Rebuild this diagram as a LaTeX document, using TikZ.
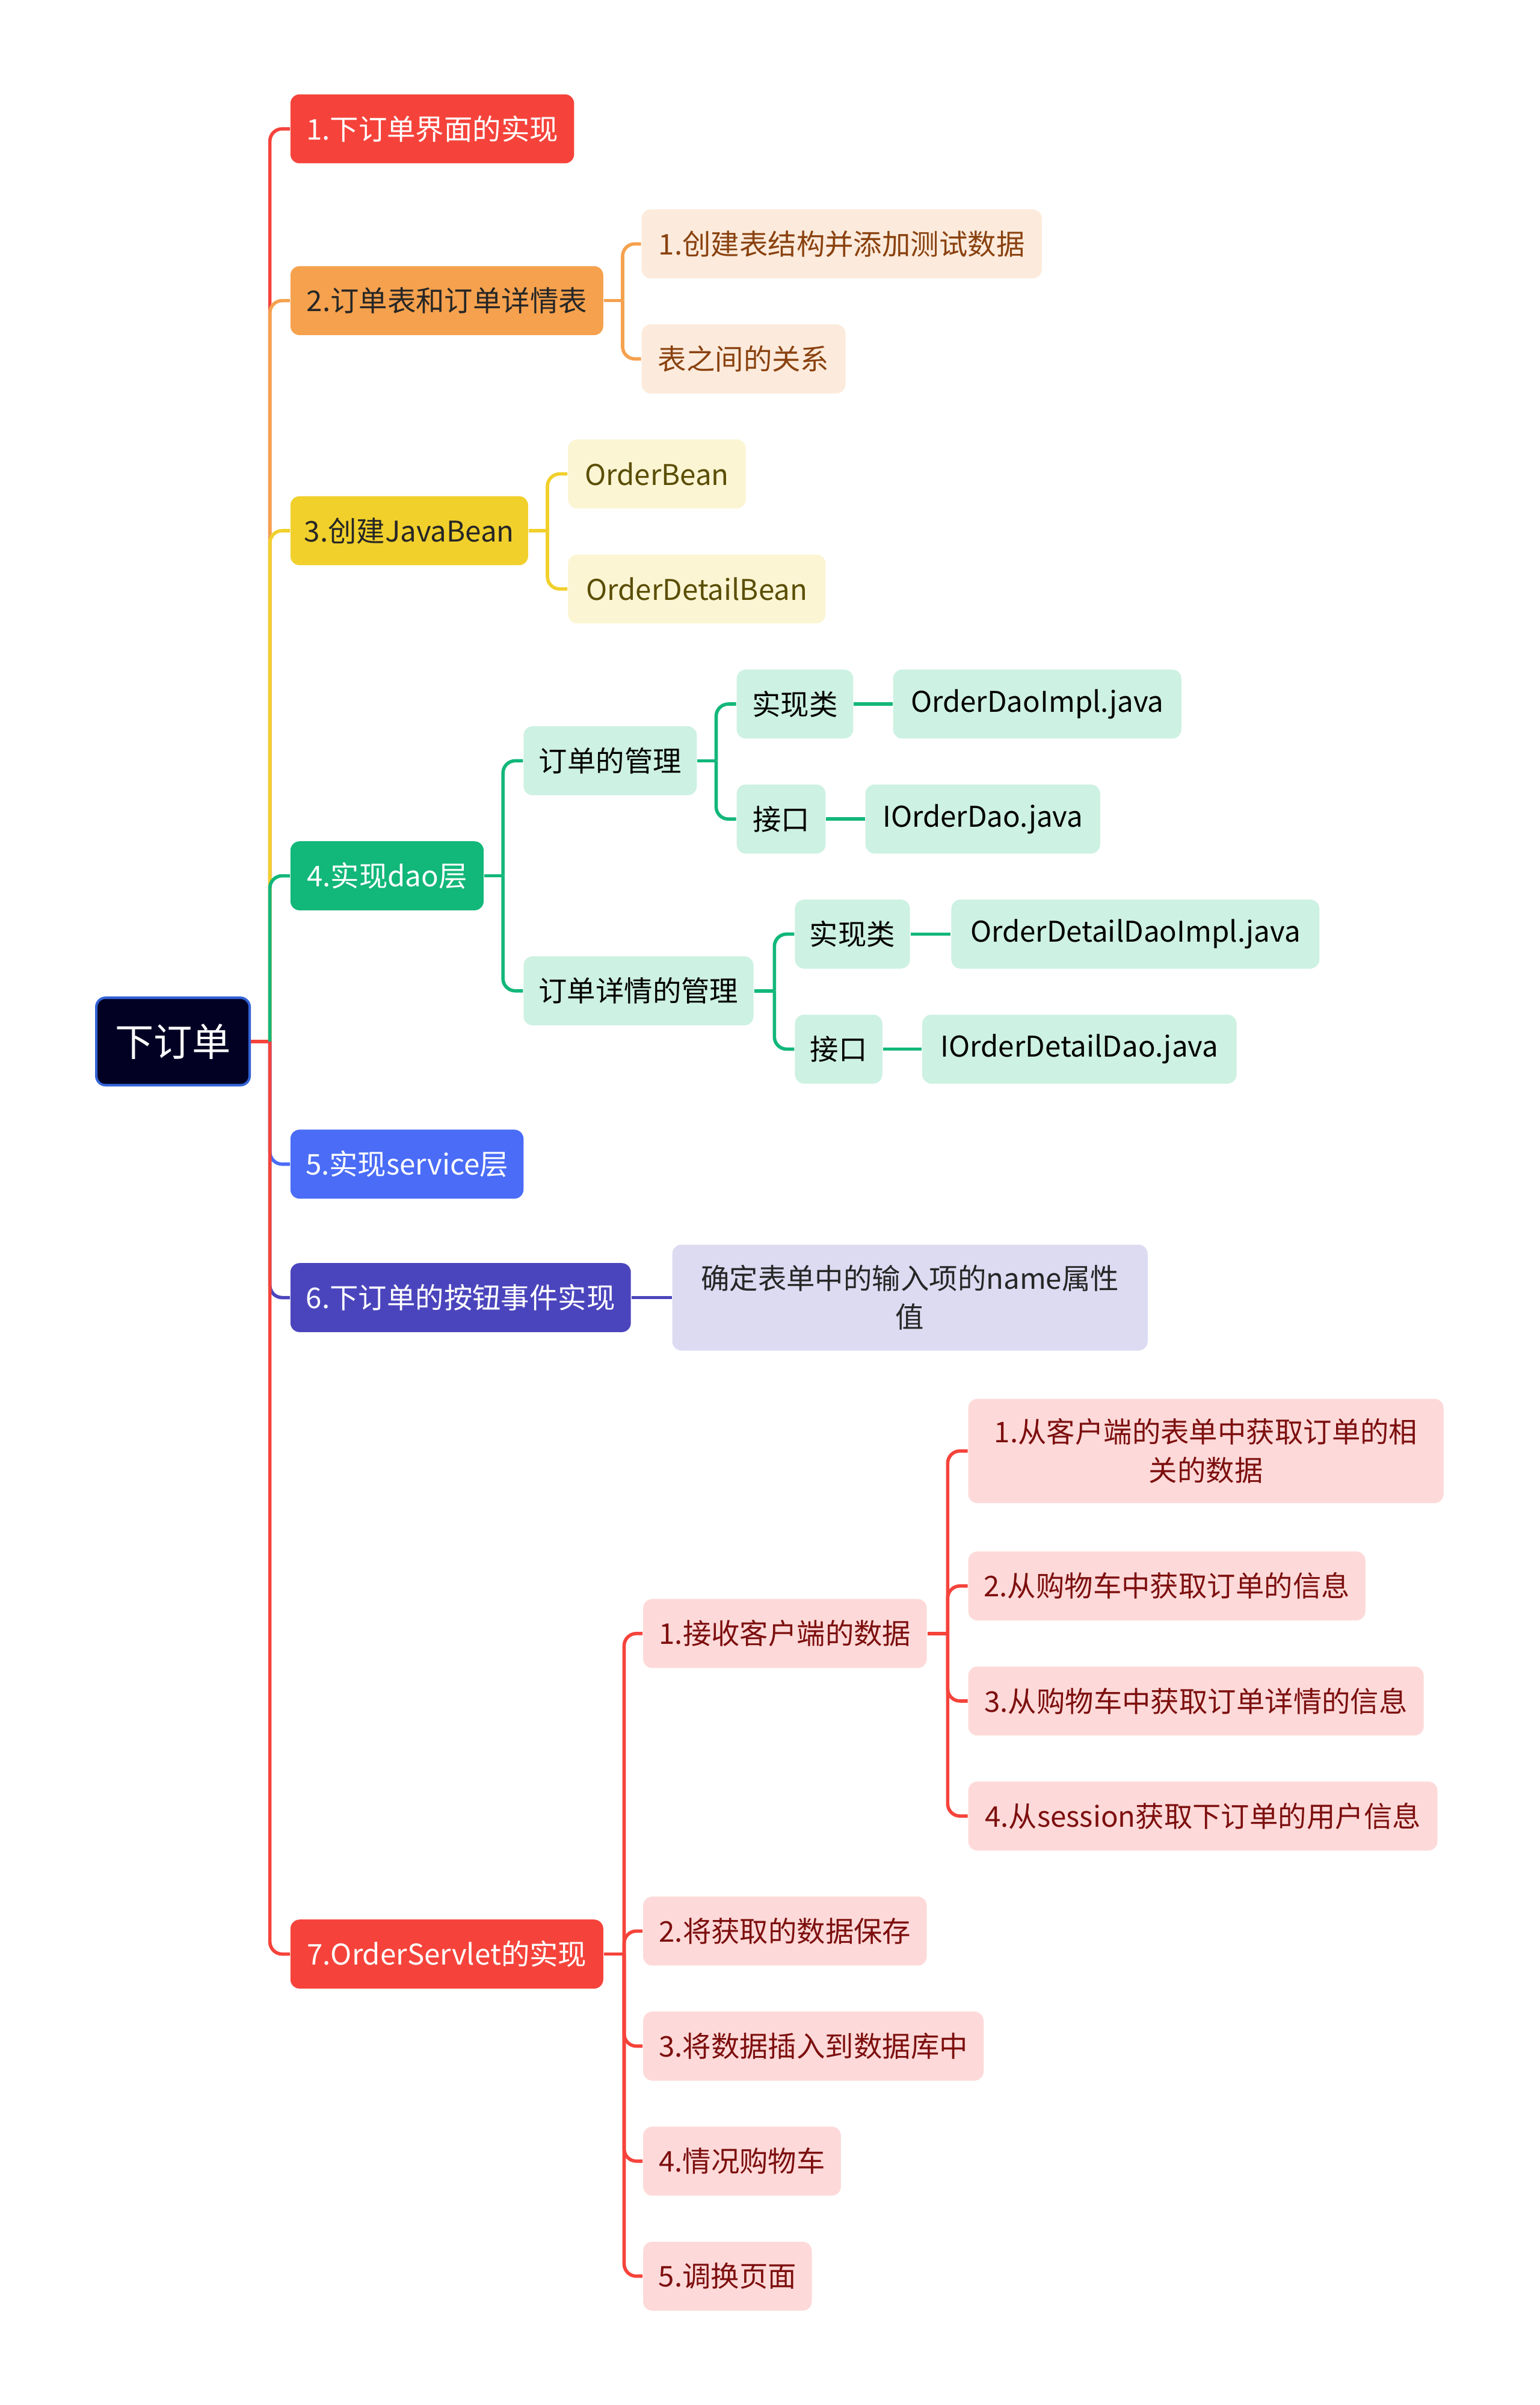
\documentclass[tikz,border=0pt]{standalone}
\usepackage{fontspec}
\setmainfont{Noto Sans CJK SC}
\usetikzlibrary{backgrounds}
\definecolor{cRed}{HTML}{F5433B}
\definecolor{cOrange}{HTML}{F5A14E}
\definecolor{cYellow}{HTML}{F1D02C}
\definecolor{cGreen}{HTML}{12B77A}
\definecolor{cBlue}{HTML}{4A6CF6}
\definecolor{cIndigo}{HTML}{4B45BD}
\definecolor{cRoot}{HTML}{020124}
\definecolor{cRootB}{HTML}{3363D6}
\definecolor{lOrange}{HTML}{FCEBDC}
\definecolor{lYellow}{HTML}{FCF5D4}
\definecolor{lGreen}{HTML}{CDF1E2}
\definecolor{lIndigo}{HTML}{DCDBF2}
\definecolor{lRed}{HTML}{FDDAD9}
\definecolor{tOrange}{HTML}{8A4210}
\definecolor{tYellow}{HTML}{5A4E05}
\definecolor{tRed}{HTML}{7D0F0F}
\definecolor{tDark}{HTML}{262626}
\tikzset{
  box/.style={rounded corners=3pt, minimum height=22.5pt, inner sep=0pt, anchor=west,
    font=\fontsize{9.3}{12.5}\selectfont, align=center},
  conn/.style={line width=1.1pt},
  elbow/.style={conn, rounded corners=4pt},
}
\begin{document}
\begin{tikzpicture}[x=0.5pt,y=-0.5pt]
\useasboundingbox (0,0) rectangle (1004,1568);
% junction coordinates
\coordinate (jT) at (176,0);
\coordinate (j2) at (406,0);
\coordinate (j3) at (357,0);
\coordinate (j4) at (328,0);
\coordinate (j4a) at (467,0);
\coordinate (j4b) at (505,0);
\coordinate (j7) at (407,0);
\coordinate (j7a) at (618,0);

% root
\node[box, fill=cRoot, draw=cRootB, line width=0.8pt, minimum width=50pt, minimum height=28.5pt,
  text=white, font=\fontsize{12.6}{14}\selectfont] (root) at (62,679) {下订单};

% level 1
\node[box, fill=cRed, text=white, minimum width=92.5pt] (n1) at (189,84) {1.下订单界面的实现};
\node[box, fill=cOrange, text=tDark, minimum width=102pt] (n2) at (189,196) {2.订单表和订单详情表};
\node[box, fill=cYellow, text=tDark, minimum width=77.5pt] (n3) at (189,346) {3.创建JavaBean};
\node[box, fill=cGreen, text=white, minimum width=63pt] (n4) at (189,571) {4.实现dao层};
\node[box, fill=cBlue, text=white, minimum width=76pt] (n5) at (189,759) {5.实现service层};
\node[box, fill=cIndigo, text=white, minimum width=111pt] (n6) at (189,846) {6.下订单的按钮事件实现};
\node[box, fill=cRed, text=white, minimum width=102pt] (n7) at (189,1274) {7.OrderServlet的实现};

% level 2+
\node[box, fill=lOrange, text=tOrange, minimum width=130.5pt] (n2a) at (418,159) {1.创建表结构并添加测试数据};
\node[box, fill=lOrange, text=tOrange, minimum width=66.5pt] (n2b) at (418,234) {表之间的关系};
\node[box, fill=lYellow, text=tYellow, minimum width=58pt] (n3a) at (370,309) {OrderBean};
\node[box, fill=lYellow, text=tYellow, minimum width=84pt] (n3b) at (370,384) {OrderDetailBean};
\node[box, fill=lGreen, text=black, minimum width=56.5pt] (n4a) at (341,496) {订单的管理};
\node[box, fill=lGreen, text=black, minimum width=75pt] (n4b) at (341,646) {订单详情的管理};
\node[box, fill=lGreen, text=black, minimum width=38pt] (n4a1) at (480,459) {实现类};
\node[box, fill=lGreen, text=black, minimum width=94pt] (n4a1x) at (582,459) {OrderDaoImpl.java};
\node[box, fill=lGreen, text=black, minimum width=29pt] (n4a2) at (480,534) {接口};
\node[box, fill=lGreen, text=black, minimum width=76.5pt] (n4a2x) at (564,534) {IOrderDao.java};
\node[box, fill=lGreen, text=black, minimum width=37.5pt] (n4b1) at (518,609) {实现类};
\node[box, fill=lGreen, text=black, minimum width=120pt] (n4b1x) at (620,609) {OrderDetailDaoImpl.java};
\node[box, fill=lGreen, text=black, minimum width=28.5pt] (n4b2) at (518,684) {接口};
\node[box, fill=lGreen, text=black, minimum width=102.5pt] (n4b2x) at (601,684) {IOrderDetailDao.java};
\node[box, fill=lIndigo, text=tDark, minimum width=155pt, minimum height=34.5pt] (n6a) at (438,846) {确定表单中的输入项的name属性\\值};
\node[box, fill=lRed, text=tRed, minimum width=92.5pt] (n7a) at (419,1065) {1.接收客户端的数据};
\node[box, fill=lRed, text=tRed, minimum width=155pt, minimum height=34pt] (n7a1) at (631,946) {1.从客户端的表单中获取订单的相\\关的数据};
\node[box, fill=lRed, text=tRed, minimum width=129.5pt] (n7a2) at (631,1034) {2.从购物车中获取订单的信息};
\node[box, fill=lRed, text=tRed, minimum width=148.5pt] (n7a3) at (631,1109) {3.从购物车中获取订单详情的信息};
\node[box, fill=lRed, text=tRed, minimum width=153pt] (n7a4) at (631,1184) {4.从session获取下订单的用户信息};
\node[box, fill=lRed, text=tRed, minimum width=92.5pt] (n7b) at (419,1259) {2.将获取的数据保存};
\node[box, fill=lRed, text=tRed, minimum width=111pt] (n7c) at (419,1334) {3.将数据插入到数据库中};
\node[box, fill=lRed, text=tRed, minimum width=64.5pt] (n7d) at (419,1409) {4.情况购物车};
\node[box, fill=lRed, text=tRed, minimum width=55pt] (n7e) at (419,1484) {5.调换页面};

% connectors behind nodes
\begin{scope}[on background layer]
  % trunk
  \draw[conn, cRed] (root.east) -- (root.east -| jT);
  \draw[elbow, cRed] (root.east -| jT) |- (n1.west);
  \draw[elbow, cOrange] (root.east -| jT) |- (n2.west);
  \draw[elbow, cYellow] (root.east -| jT) |- (n3.west);
  \draw[elbow, cGreen] (root.east -| jT) |- (n4.west);
  \draw[elbow, cBlue] (root.east -| jT) |- (n5.west);
  \draw[elbow, cIndigo] (root.east -| jT) |- (n6.west);
  \draw[elbow, cRed] (root.east -| jT) |- (n7.west);
  % branch 2
  \draw[conn, cOrange] (n2.east) -- (n2.east -| j2);
  \draw[elbow, cOrange] (n2.east -| j2) |- (n2a.west);
  \draw[elbow, cOrange] (n2.east -| j2) |- (n2b.west);
  % branch 3
  \draw[conn, cYellow] (n3.east) -- (n3.east -| j3);
  \draw[elbow, cYellow] (n3.east -| j3) |- (n3a.west);
  \draw[elbow, cYellow] (n3.east -| j3) |- (n3b.west);
  % branch 4
  \draw[conn, cGreen] (n4.east) -- (n4.east -| j4);
  \draw[elbow, cGreen] (n4.east -| j4) |- (n4a.west);
  \draw[elbow, cGreen] (n4.east -| j4) |- (n4b.west);
  \draw[conn, cGreen] (n4a.east) -- (n4a.east -| j4a);
  \draw[elbow, cGreen] (n4a.east -| j4a) |- (n4a1.west);
  \draw[elbow, cGreen] (n4a.east -| j4a) |- (n4a2.west);
  \draw[conn, cGreen] (n4b.east) -- (n4b.east -| j4b);
  \draw[elbow, cGreen] (n4b.east -| j4b) |- (n4b1.west);
  \draw[elbow, cGreen] (n4b.east -| j4b) |- (n4b2.west);
  \draw[conn, cGreen] (n4a1.east) -- (n4a1x.west);
  \draw[conn, cGreen] (n4a2.east) -- (n4a2x.west);
  \draw[conn, cGreen] (n4b1.east) -- (n4b1x.west);
  \draw[conn, cGreen] (n4b2.east) -- (n4b2x.west);
  % branch 6
  \draw[conn, cIndigo] (n6.east) -- (n6a.west);
  % branch 7
  \draw[conn, cRed] (n7.east) -- (n7.east -| j7);
  \draw[elbow, cRed] (n7.east -| j7) |- (n7a.west);
  \draw[elbow, cRed] (n7.east -| j7) |- (n7b.west);
  \draw[elbow, cRed] (n7.east -| j7) |- (n7c.west);
  \draw[elbow, cRed] (n7.east -| j7) |- (n7d.west);
  \draw[elbow, cRed] (n7.east -| j7) |- (n7e.west);
  \draw[conn, cRed] (n7a.east) -- (n7a.east -| j7a);
  \draw[elbow, cRed] (n7a.east -| j7a) |- (n7a1.west);
  \draw[elbow, cRed] (n7a.east -| j7a) |- (n7a2.west);
  \draw[elbow, cRed] (n7a.east -| j7a) |- (n7a3.west);
  \draw[elbow, cRed] (n7a.east -| j7a) |- (n7a4.west);
\end{scope}
\end{tikzpicture}
\end{document}
